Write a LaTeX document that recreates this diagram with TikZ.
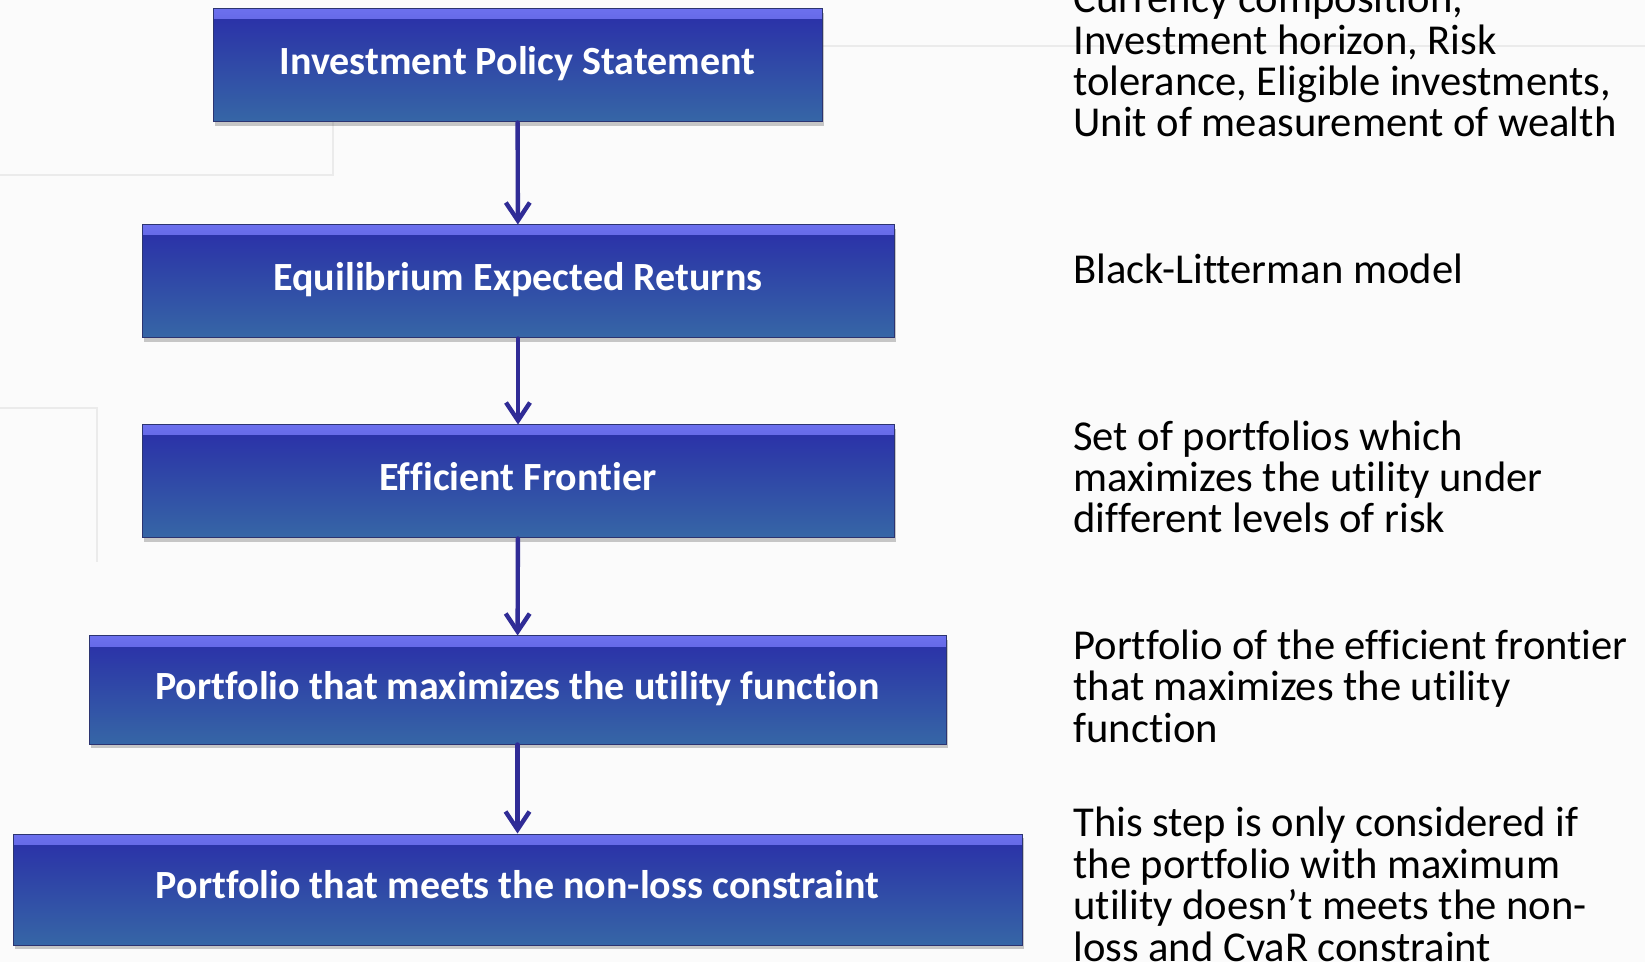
\documentclass[tikz,border=0pt]{standalone}
\usepackage{fontspec}
\setmainfont[Ligatures=NoCommon]{Carlito}
\usepackage{tikz}
\usetikzlibrary{arrows.meta, shadows}
\definecolor{boxtop}{RGB}{42,46,168}
\definecolor{boxbottom}{RGB}{54,102,166}
\definecolor{boxbevel}{RGB}{108,112,238}
\definecolor{boxedge}{RGB}{44,52,112}
\definecolor{flowblue}{RGB}{48,44,150}
\definecolor{slidegray}{RGB}{251,251,251}
\tikzset{
  stage/.style = {rectangle, draw=boxedge, line width=0.5pt, inner sep=0pt,
                  top color=boxtop, bottom color=boxbottom, text=white,
                  font=\fontsize{20}{24}\selectfont\bfseries,
                  text height=14pt, text depth=5pt,
                  drop shadow={shadow xshift=1pt, shadow yshift=-2pt, opacity=0.3, fill=black!70},
                  path picture={\shade[top color=boxbevel, bottom color=boxtop]
                      (path picture bounding box.north west)
                      rectangle ([yshift=-5pt]path picture bounding box.north east);}},
  note/.style  = {anchor=base west, align=left, inner sep=0pt, text=black,
                  font=\fontsize{21.3}{20.7}\selectfont},
  flow/.style  = {-{Straight Barb[length=9pt, width=12pt]}, line width=2.2pt,
                  draw=flowblue, line cap=round},
  guide/.style = {draw=black!8, line width=1pt},
}

\begin{document}
\begin{tikzpicture}[x=0.5pt, y=-0.5pt]
    \useasboundingbox (0,0) rectangle (1645,962);
    \clip (0,0) rectangle (1645,962);
    \fill[slidegray] (0,0) rectangle (1645,962);

    % faint slide guides
    \draw[guide] (822,46) -- (1645,46);
    \draw[guide] (333,122) -- (333,175) -- (0,175);
    \draw[guide] (0,408) -- (97,408) -- (97,562);

    % process steps
    \node[stage, minimum width=304.5pt, minimum height=56.5pt] (ips) at (517.5,65.5)
      {Investment Policy Statement};
    \node[stage, minimum width=376pt, minimum height=56.5pt] (eqret) at (518,281.5)
      {Equilibrium Expected Returns};
    \node[stage, minimum width=376pt, minimum height=56.5pt] (frontier) at (518,481.5)
      {Efficient Frontier};
    \node[stage, minimum width=428.5pt, minimum height=54pt] (maxutil) at (517.5,690)
      {Portfolio that maximizes the utility function};
    \node[stage, minimum width=504.5pt, minimum height=55.5pt] (nonloss) at (517.5,889.5)
      {Portfolio that meets the non-loss constraint};

    % arrows between steps
    \draw[flow] (ips) -- (eqret);
    \draw[flow] (eqret) -- (frontier);
    \draw[flow] (frontier) -- (maxutil);
    \draw[flow] (maxutil) -- (nonloss);

    % notes on the right (anchored at the last line)
    \node[note] (ipsnote) at (1073,137)
      {Currency composition,\\Investment horizon, Risk\\tolerance, Eligible investments,\\Unit of measurement of wealth};
    \node[note] (eqnote) at (1073,284) {Black-Litterman model};
    \node[note] (frontiernote) at (1073,533)
      {Set of portfolios which\\maximizes the utility under\\different levels of risk};
    \node[note] (maxutilnote) at (1073,742)
      {Portfolio of the efficient frontier\\that maximizes the utility\\function};
    \node[note] (nonlossnote) at (1073,961)
      {This step is only considered if\\the portfolio with maximum\\utility doesn’t meets the non-\\loss and CvaR constraint};
\end{tikzpicture}
\end{document}
